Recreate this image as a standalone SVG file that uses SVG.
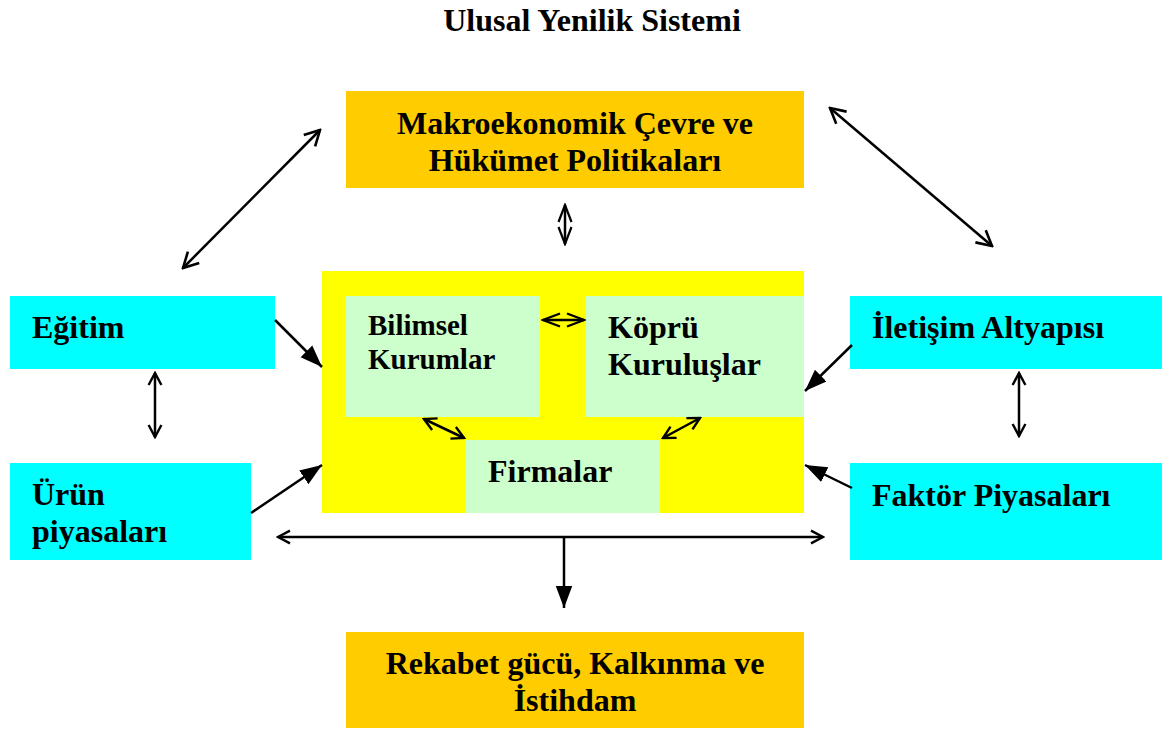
<svg xmlns="http://www.w3.org/2000/svg" width="1162" height="729" viewBox="0 0 1162 729">
<style>
.t{font-family:"Liberation Serif","Times New Roman",serif;font-weight:bold;fill:#000;font-size:32px}
.ln{stroke:#000;stroke-width:2.5;fill:none}
.orange{fill:#FFCC00}
.cyan{fill:#00FFFF}
.green{fill:#CCFFCC}
</style>
<defs>
<marker id="open" viewBox="0 0 20 20" refX="18" refY="10" markerWidth="20" markerHeight="20" orient="auto-start-reverse" markerUnits="userSpaceOnUse">
<path d="M3,2 L18,10 L3,18" fill="none" stroke="#000" stroke-width="2.6"/>
</marker>
<marker id="openMd" viewBox="0 0 20 20" refX="18" refY="10" markerWidth="16" markerHeight="16" orient="auto-start-reverse" markerUnits="userSpaceOnUse">
<path d="M3,2 L18,10 L3,18" fill="none" stroke="#000" stroke-width="3"/>
</marker>
<marker id="openSm" viewBox="0 0 20 20" refX="18" refY="10" markerWidth="20" markerHeight="20" orient="auto-start-reverse" markerUnits="userSpaceOnUse">
<path d="M1,3.5 L18,10 L1,16.5" fill="none" stroke="#000" stroke-width="2.2"/>
</marker>
<marker id="filled" viewBox="0 0 20 20" refX="20" refY="10" markerWidth="22" markerHeight="22" orient="auto" markerUnits="userSpaceOnUse">
<path d="M0,2.5 L20,10 L0,17.5 Z" fill="#000"/>
</marker>
</defs>
<rect width="1162" height="729" fill="#fff"/>
<text class="t" x="592" y="31" text-anchor="middle">Ulusal Yenilik Sistemi</text>

<g id="makro">
<rect class="orange" x="346" y="91" width="458" height="97"/>
<text class="t" x="575" y="134" text-anchor="middle">Makroekonomik Çevre ve</text>
<text class="t" x="575" y="171" text-anchor="middle">Hükümet Politikaları</text>
</g>

<g id="merkez">
<rect x="322" y="271" width="482" height="242" fill="#FFFF00"/>
</g>
<g id="bilimsel">
<rect class="green" x="346" y="296" width="194" height="121"/>
<text class="t" x="368" y="335" font-size="29" style="font-size:29px">Bilimsel</text>
<text class="t" x="368" y="369" style="font-size:29px">Kurumlar</text>
</g>
<g id="kopru">
<rect class="green" x="586" y="296" width="218" height="121"/>
<text class="t" x="608" y="338">Köprü</text>
<text class="t" x="608" y="375">Kuruluşlar</text>
</g>
<g id="firmalar">
<rect class="green" x="466" y="440" width="194" height="73"/>
<text class="t" x="488" y="482">Firmalar</text>
</g>

<g id="egitim">
<rect class="cyan" x="10" y="296" width="265" height="73"/>
<text class="t" x="32" y="338">Eğitim</text>
</g>
<g id="urun">
<rect class="cyan" x="10" y="463" width="241" height="97"/>
<text class="t" x="32" y="505">Ürün</text>
<text class="t" x="32" y="542">piyasaları</text>
</g>
<g id="iletisim">
<rect class="cyan" x="850" y="296" width="312" height="73"/>
<text class="t" x="872" y="338">İletişim Altyapısı</text>
</g>
<g id="faktor">
<rect class="cyan" x="850" y="463" width="312" height="97"/>
<text class="t" x="872" y="506">Faktör Piyasaları</text>
</g>

<g id="rekabet">
<rect class="orange" x="346" y="632" width="458" height="96"/>
<text class="t" x="575" y="674" text-anchor="middle">Rekabet gücü, Kalkınma ve</text>
<text class="t" x="575" y="711" text-anchor="middle">İstihdam</text>
</g>

<g id="connectors">
<line class="ln" x1="183" y1="268" x2="320" y2="130" marker-start="url(#open)" marker-end="url(#open)"/>
<line class="ln" x1="830" y1="108" x2="992" y2="246" marker-start="url(#open)" marker-end="url(#open)"/>
<line class="ln" x1="565" y1="205" x2="565" y2="244" marker-start="url(#openSm)" marker-end="url(#openSm)"/>
<line class="ln" x1="155" y1="373" x2="155" y2="437" marker-start="url(#openMd)" marker-end="url(#openMd)"/>
<line class="ln" x1="1019" y1="373" x2="1019" y2="436" marker-start="url(#openMd)" marker-end="url(#openMd)"/>
<line class="ln" x1="543" y1="320" x2="584" y2="320" marker-start="url(#openSm)" marker-end="url(#openSm)"/>
<line class="ln" x1="424" y1="419" x2="464" y2="438" marker-start="url(#openMd)" marker-end="url(#openMd)"/>
<line class="ln" x1="700" y1="418" x2="663" y2="438" marker-start="url(#openMd)" marker-end="url(#openMd)"/>
<line class="ln" x1="278" y1="537" x2="823" y2="537" marker-start="url(#openMd)" marker-end="url(#openMd)"/>
<line class="ln" x1="564" y1="537" x2="564" y2="608" marker-end="url(#filled)"/>
<line class="ln" x1="275" y1="320" x2="322" y2="367" marker-end="url(#filled)"/>
<line class="ln" x1="251" y1="513" x2="322" y2="465" marker-end="url(#filled)"/>
<line class="ln" x1="852" y1="345" x2="805" y2="391" marker-end="url(#filled)"/>
<line class="ln" x1="852" y1="488" x2="805" y2="465" marker-end="url(#filled)"/>
</g>
</svg>
